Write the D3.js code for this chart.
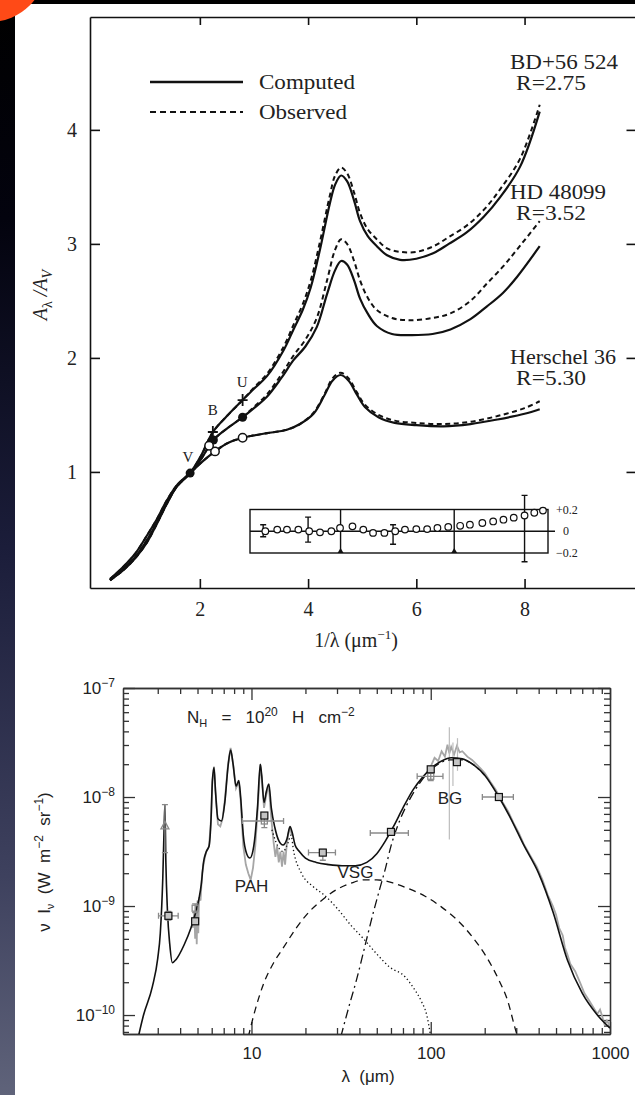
<!DOCTYPE html>
<html><head><meta charset="utf-8">
<script src="https://cdn.jsdelivr.net/npm/d3@7"></script>
<style>html,body{margin:0;padding:0;background:#000;overflow:hidden}svg{display:block}</style>
</head><body>
<svg id="c" width="635" height="1095"></svg>
<script>
// ================= TOP CHART DATA (extinction curves) =================
const topXTicks = [2, 4, 6, 8];
const topYTicks = [1, 2, 3, 4];

const bdX    = [0.34,0.59,0.80,1.02,1.20,1.39,1.57,1.82,2.02,2.24,2.5,2.79,3.0,3.24,3.55,3.73,3.9,4.05,4.22,4.4,4.5,4.61,4.72,4.85,4.96,5.1,5.27,5.46,5.7,6.0,6.32,6.6,6.93,7.25,7.55,7.92,8.28];
const bdComp = [0.05,0.14,0.24,0.38,0.54,0.72,0.87,0.99,1.14,1.35,1.49,1.63,1.73,1.84,2.07,2.25,2.42,2.62,2.95,3.35,3.52,3.60,3.55,3.38,3.20,3.07,2.98,2.90,2.86,2.87,2.92,3.00,3.10,3.24,3.41,3.68,4.16];
const bdObs  = [0.05,0.14,0.24,0.38,0.54,0.72,0.87,0.99,1.14,1.35,1.49,1.63,1.74,1.86,2.10,2.29,2.47,2.68,3.02,3.42,3.60,3.67,3.62,3.45,3.27,3.13,3.04,2.96,2.93,2.93,2.98,3.06,3.16,3.30,3.48,3.75,4.22];

const hdX    = [0.34,0.59,0.80,1.02,1.20,1.39,1.57,1.82,2.02,2.25,2.5,2.79,3.0,3.24,3.5,3.73,3.95,4.16,4.35,4.5,4.61,4.72,4.85,4.96,5.1,5.27,5.55,5.89,6.3,6.63,7.0,7.3,7.6,7.86,8.28];
const hdComp = [0.05,0.15,0.25,0.40,0.55,0.73,0.87,0.99,1.11,1.28,1.38,1.48,1.56,1.66,1.82,1.98,2.10,2.27,2.56,2.77,2.85,2.82,2.68,2.52,2.39,2.28,2.21,2.20,2.21,2.25,2.34,2.45,2.57,2.71,2.98];
const hdObs  = [0.05,0.15,0.25,0.40,0.55,0.73,0.87,0.99,1.11,1.28,1.38,1.48,1.57,1.68,1.85,2.02,2.16,2.35,2.68,2.95,3.04,3.00,2.85,2.68,2.53,2.42,2.35,2.33,2.35,2.39,2.50,2.65,2.80,2.95,3.20];

const herX    = [0.34,0.59,0.80,1.02,1.20,1.39,1.57,1.82,2.02,2.28,2.5,2.79,3.0,3.24,3.61,3.85,4.1,4.3,4.45,4.6,4.75,4.9,5.05,5.3,5.6,6.0,6.5,7.0,7.5,8.0,8.28];
const herComp = [0.06,0.17,0.28,0.44,0.58,0.75,0.88,0.99,1.08,1.18,1.25,1.30,1.32,1.34,1.37,1.42,1.51,1.67,1.80,1.85,1.80,1.68,1.57,1.48,1.43,1.41,1.40,1.42,1.46,1.51,1.55];
const herObs  = [0.06,0.17,0.28,0.44,0.58,0.75,0.88,0.99,1.08,1.18,1.25,1.30,1.32,1.34,1.37,1.42,1.52,1.68,1.82,1.87,1.82,1.70,1.59,1.50,1.45,1.43,1.42,1.44,1.49,1.56,1.62];

// photometric points: [x, y]
const filledPts = [[1.82,0.99],[2.25,1.28],[2.79,1.48]];
const openPts   = [[2.28,1.18],[2.17,1.23],[2.79,1.30]];
const plusPts   = [[2.24,1.35],[2.79,1.63]];
const bandLabels = [["V",1.78,1.09],["B",2.24,1.50],["U",2.78,1.745]];

const starNames = ["BD+56 524","HD 48099","Herschel 36"];
const starR     = ["R=2.75","R=3.52","R=5.30"];
const starLabelY = [4.534, 3.394, 1.947];

// inset residuals
const resX = [3.21,3.43,3.61,3.82,4.02,4.22,4.43,4.59,4.82,5.02,5.20,5.41,5.61,5.79,6.0,6.2,6.39,6.59,6.81,6.99,7.22,7.42,7.61,7.8,8.0,8.18,8.34];
const resY = [0,0.015,0.015,0.015,0,-0.01,0,0.03,0.045,0.015,-0.015,-0.015,0,0.015,0.02,0.02,0.03,0.04,0.05,0.06,0.076,0.09,0.106,0.125,0.145,0.17,0.19];
const resErrX  = [3.17, 4.0, 5.57, 8.0];
const resErrLo = [-0.05,-0.10,-0.12,-0.28];
const resErrHi = [0.06,0.13,0.06,0.33];
const resDividers = [4.6, 6.7];
const resTicks = [["+0.2",0.2],["0",0],["\u22120.2",-0.2]];

// ================= BOTTOM CHART DATA (dust SED) =================
const botXMajor = [10, 100, 1000];
const botYMajorExp = [-10, -9, -8, -7];

const totLam = [2.2,2.5,2.8,3.0,3.1,3.2,3.26,3.29,3.33,3.4,3.5,3.62,3.8,4.2,4.6,4.9,5.1,5.25,5.4,5.6,5.8,5.95,6.05,6.18,6.3,6.5,6.8,7.1,7.4,7.65,7.9,8.2,8.5,8.7,9.0,9.4,9.8,10.3,10.8,11.2,11.4,11.75,12.1,12.5,12.9,13.5,14.2,15.0,15.8,16.4,16.9,17.5,18.5,20,23,27,32,38,44,50,56,62,70,80,90,100,115,130,150,175,200,240,280,330,400,480,580,700,850,1000];
const totLog = [-10.4,-10.0,-9.74,-9.48,-9.25,-8.75,-8.25,-8.07,-8.6,-9.05,-9.35,-9.52,-9.49,-9.36,-9.2,-9.05,-8.93,-8.8,-8.6,-8.5,-8.45,-8.2,-7.86,-7.73,-7.95,-8.2,-8.22,-8.05,-7.72,-7.57,-7.7,-7.9,-7.85,-8.0,-8.35,-8.52,-8.56,-8.45,-8.1,-7.7,-7.8,-8.05,-7.95,-7.88,-8.1,-8.28,-8.4,-8.44,-8.38,-8.27,-8.33,-8.44,-8.5,-8.56,-8.6,-8.62,-8.63,-8.63,-8.6,-8.52,-8.4,-8.27,-8.1,-7.93,-7.82,-7.74,-7.67,-7.64,-7.65,-7.71,-7.8,-8.0,-8.2,-8.44,-8.7,-9.05,-9.5,-9.8,-10.0,-10.12];

const pahLam = [13,14,15,16,16.6,17.2,19,22,25.5,30,36,42.7,50,59,72,80,89,95,100];
const pahLog = [-8.3,-8.45,-8.5,-8.42,-8.35,-8.5,-8.7,-8.82,-8.9,-9.02,-9.18,-9.31,-9.44,-9.56,-9.65,-9.75,-9.88,-10.0,-10.2];

const vsgLam = [9.6,10.5,11.7,13.3,15.1,17.8,20.8,25,29.8,36,42.7,50,62,75,93,115,141,170,205,240,270,293,305];
const vsgLog = [-10.2,-9.95,-9.71,-9.52,-9.38,-9.2,-9.06,-8.94,-8.85,-8.79,-8.76,-8.76,-8.79,-8.84,-8.91,-9.01,-9.13,-9.28,-9.47,-9.68,-9.88,-10.1,-10.2];

const bgLam = [31.5,35,38.5,43.8,48,51.8,56,60,67,77,87,96,110,128,150,175,200];
const bgLog = [-10.2,-9.92,-9.68,-9.31,-9.05,-8.85,-8.65,-8.45,-8.22,-8.01,-7.87,-7.78,-7.7,-7.66,-7.66,-7.71,-7.8];

const isoLam = [4.7,4.8,4.85,4.9,4.95,5.0,5.05,5.1,5.2,5.3,5.4,5.5,5.6,5.8,5.95,6.05,6.18,6.3,6.5,6.7,6.9,7.1,7.4,7.65,7.9,8.2,8.5,8.7,9.0,9.3,9.6,9.9,10.2,10.5,10.8,11.2,11.4,11.75,12.1,12.5,12.9,13.3,13.6,13.9,14.2,14.5,14.8,15.1,15.4,15.7,16.0,16.4,16.8];
const isoLog = [-9.2,-9.05,-9.3,-9.0,-9.35,-8.95,-9.25,-8.92,-8.95,-8.7,-8.62,-8.55,-8.5,-8.45,-8.2,-7.85,-7.72,-7.95,-8.25,-8.27,-8.2,-8.03,-7.7,-7.55,-7.7,-7.92,-7.86,-8.03,-8.45,-8.62,-8.7,-8.76,-8.65,-8.45,-8.15,-7.7,-7.82,-8.1,-7.98,-7.9,-8.2,-8.42,-8.55,-8.45,-8.6,-8.5,-8.64,-8.5,-8.62,-8.45,-8.35,-8.28,-8.35];

const firLam = [100,105,110,115,120,124,127,130,135,140,145,150,160,170,180,190,200,215,230,250,270,290,310,330,360,390,420,450,480,500,520,545,560,580,600,640,680,720,760,800,850,880,900,930,960,1000];
const firLog = [-7.72,-7.64,-7.67,-7.58,-7.63,-7.52,-7.6,-7.54,-7.61,-7.53,-7.59,-7.58,-7.63,-7.66,-7.7,-7.74,-7.78,-7.86,-7.93,-8.04,-8.13,-8.24,-8.33,-8.43,-8.54,-8.64,-8.76,-8.9,-9.0,-9.08,-9.2,-9.27,-9.38,-9.45,-9.53,-9.6,-9.7,-9.8,-9.86,-9.92,-9.99,-9.95,-10.0,-10.08,-10.05,-10.1];

const spikes = [[127,-8.39,-7.36],[141,-7.76,-7.46],[133,-7.9,-7.5]];

const sqLam = [3.44,4.85,11.8,25,60,100,140,240];
const sqLog = [-9.09,-9.14,-8.17,-8.51,-8.32,-7.746,-7.68,-8.0];
const obsPts = [
  [3.44,-9.09,-9.13,-9.05,3.03,3.9],
  [4.85,-9.02,-9.06,-8.98,4.85,4.85],
  [11.8,-8.22,-8.28,-8.15,8.9,15.1],
  [25,-8.51,-8.58,-8.48,20.8,29.4],
  [60,-8.33,-8.35,-8.31,46,75],
  [100,-7.81,-7.85,-7.77,84,117],
  [240,-8.0,-8.02,-7.98,194,289]
];
const triPt = [3.29,-8.26,-8.51,-8.07];

const compLabels = [["PAH",10.0,-8.87],["VSG",38,-8.74],["BG",128,-8.06]];

// ================= DRAW =================
const svg = d3.select("#c");
const defs = svg.append("defs");
const grad = defs.append("linearGradient").attr("id","strip").attr("x1",0).attr("y1",0).attr("x2",0).attr("y2",1);
[[0,"#000"],[0.2,"#03030e"],[0.5,"#1b1d3a"],[0.8,"#3e415e"],[1,"#5f637a"]].forEach(s=>grad.append("stop").attr("offset",s[0]).attr("stop-color",s[1]));
svg.append("rect").attr("width",635).attr("height",1095).attr("fill","#000");
svg.append("rect").attr("width",15).attr("height",1095).attr("fill","url(#strip)");
svg.append("rect").attr("x",15).attr("y",4).attr("width",620).attr("height",1091).attr("fill","#fff");
svg.append("circle").attr("cx",-10).attr("cy",-34).attr("r",56).attr("fill","#ff4a17");

const SERIF = "'Liberation Serif','Times New Roman',serif";
const SANS = "'Liberation Sans',Arial,Helvetica,sans-serif";

// ---------- top chart ----------
const xT = d3.scaleLinear().domain([-0.03, 10.05]).range([90, 635.5]);
const yT = d3.scaleLinear().domain([-0.018, 4.99]).range([588, 17]);
defs.append("clipPath").attr("id","clipT").append("rect").attr("x",90).attr("y",17).attr("width",546).attr("height",571);

const gT = svg.append("g");
function styleAxis(g, col, sw, font, fs){
  g.attr("font-family", font).attr("font-size", fs);
  g.select(".domain").attr("stroke", col).attr("stroke-width", sw);
  g.selectAll(".tick line").attr("stroke", col).attr("stroke-width", sw);
  g.selectAll(".tick text").attr("fill", "#222");
}
gT.append("g").attr("transform","translate(0,588)")
  .call(d3.axisBottom(xT).tickValues(topXTicks).tickSize(-9).tickSizeOuter(0).tickPadding(14).tickFormat(d3.format("d")))
  .call(g=>styleAxis(g,"#111",1.6,SERIF,20));
gT.append("g").attr("transform","translate(0,17)")
  .call(d3.axisTop(xT).tickValues(topXTicks).tickSize(-8).tickSizeOuter(0).tickFormat(""))
  .call(g=>styleAxis(g,"#111",1.6,SERIF,20));
gT.append("g").attr("transform","translate(90,0)")
  .call(d3.axisLeft(yT).tickValues(topYTicks).tickSize(-10).tickSizeOuter(0).tickPadding(13).tickFormat(d3.format("d")))
  .call(g=>styleAxis(g,"#111",1.6,SERIF,20));
gT.append("g").attr("transform","translate(635.5,0)")
  .call(d3.axisRight(yT).tickValues(topYTicks).tickSize(-9).tickSizeOuter(0).tickFormat(""))
  .call(g=>styleAxis(g,"#111",1.6,SERIF,20));

const lineT = d3.line().x(d=>xT(d[0])).y(d=>yT(d[1])).curve(d3.curveCatmullRom.alpha(0.5));
const topCurves = [
  [bdX,bdComp,null],[bdX,bdObs,"5,3.5"],
  [hdX,hdComp,null],[hdX,hdObs,"5,3.5"],
  [herX,herComp,null],[herX,herObs,"5,3.5"]
];
const gCurves = gT.append("g").attr("clip-path","url(#clipT)");
gCurves.selectAll("path").data(topCurves).join("path")
  .attr("d",c=>lineT(c[0].map((x,i)=>[x,c[1][i]])))
  .attr("fill","none").attr("stroke","#111")
  .attr("stroke-width",c=>c[2]?2.0:2.2)
  .attr("stroke-dasharray",c=>c[2]);

gT.selectAll("circle.f").data(filledPts).join("circle").attr("class","f")
  .attr("cx",d=>xT(d[0])).attr("cy",d=>yT(d[1])).attr("r",4.5).attr("fill","#111");
gT.selectAll("circle.o").data(openPts).join("circle").attr("class","o")
  .attr("cx",d=>xT(d[0])).attr("cy",d=>yT(d[1])).attr("r",4.2).attr("fill","#fff").attr("stroke","#111").attr("stroke-width",1.5);
gT.selectAll("path.p").data(plusPts).join("path").attr("class","p")
  .attr("d",d=>{const cx=xT(d[0]),cy=yT(d[1]);return `M${cx-5},${cy}H${cx+5}M${cx},${cy-6}V${cy+6}`;})
  .attr("stroke","#111").attr("stroke-width",1.8);
gT.selectAll("text.band").data(bandLabels).join("text").attr("class","band")
  .attr("x",d=>xT(d[1])).attr("y",d=>yT(d[2])).attr("text-anchor","middle")
  .attr("font-family",SERIF).attr("font-size",15).attr("fill","#222").text(d=>d[0]);

const gLab = gT.append("g").attr("font-family",SERIF).attr("font-size",20).attr("fill","#222");
gLab.selectAll("text.n").data(starNames).join("text").attr("class","n")
  .attr("x",510).attr("y",(d,i)=>yT(starLabelY[i])).attr("textLength",(d,i)=>[108,96,106][i]).attr("lengthAdjust","spacingAndGlyphs").text(d=>d);
gLab.selectAll("text.r").data(starR).join("text").attr("class","r")
  .attr("x",516).attr("y",(d,i)=>yT(starLabelY[i])+21).attr("textLength",70).attr("lengthAdjust","spacingAndGlyphs").text(d=>d);

const legend = [["Computed",null,82,96],["Observed","6,4",112,88]];
const gLeg = gT.append("g");
gLeg.selectAll("line").data(legend).join("line")
  .attr("x1",150).attr("x2",243).attr("y1",d=>d[2]).attr("y2",d=>d[2])
  .attr("stroke","#111").attr("stroke-width",d=>d[1]?2.2:2.6).attr("stroke-dasharray",d=>d[1]);
gLeg.selectAll("text").data(legend).join("text")
  .attr("x",259).attr("y",d=>d[2]+7).attr("font-family",SERIF).attr("font-size",21).attr("fill","#222")
  .attr("textLength",d=>d[3]).attr("lengthAdjust","spacingAndGlyphs").text(d=>d[0]);

const yTitle = gT.append("text").attr("transform","translate(47,295) rotate(-90)").attr("text-anchor","middle")
  .attr("font-family",SERIF).attr("font-size",20).attr("fill","#222");
yTitle.append("tspan").attr("font-style","italic").text("A");
yTitle.append("tspan").attr("font-size",14).attr("dy",5).text("λ");
yTitle.append("tspan").attr("font-style","italic").attr("dy",-5).text(" /A");
yTitle.append("tspan").attr("font-size",14).attr("font-style","italic").attr("dy",5).text("V");
const xTitle = gT.append("text").attr("x",356).attr("y",647).attr("text-anchor","middle")
  .attr("font-family",SERIF).attr("font-size",20).attr("fill","#222");
xTitle.append("tspan").text("1/λ (μm");
xTitle.append("tspan").attr("font-size",13).attr("dy",-8).text("−1");
xTitle.append("tspan").attr("dy",8).text(")");

const yI = d3.scaleLinear().domain([-0.2,0.2]).range([553,509.5]);
const gI = gT.append("g");
gI.append("rect").attr("x",250).attr("y",yI(0.2)).attr("width",298).attr("height",yI(-0.2)-yI(0.2))
  .attr("fill","#fff").attr("stroke","#111").attr("stroke-width",1.4);
gI.append("line").attr("x1",250).attr("x2",555).attr("y1",yI(0)).attr("y2",yI(0)).attr("stroke","#111").attr("stroke-width",1.3);
gI.selectAll("line.div").data(resDividers).join("line").attr("class","div")
  .attr("x1",d=>xT(d)).attr("x2",d=>xT(d)).attr("y1",yI(0.2)).attr("y2",yI(-0.2)).attr("stroke","#111").attr("stroke-width",1.4);
gI.selectAll("path.tri").data(resDividers).join("path").attr("class","tri")
  .attr("d",d=>{const x=xT(d),y=yI(-0.2);return `M${x-3},${y}L${x+3},${y}L${x},${y-5}Z`;}).attr("fill","#111");
gI.selectAll("path.err").data(resErrX).join("path").attr("class","err")
  .attr("d",(d,i)=>{const x=xT(d),a=yI(resErrLo[i]),b=yI(resErrHi[i]);return `M${x},${a}V${b}M${x-3},${a}H${x+3}M${x-3},${b}H${x+3}`;})
  .attr("stroke","#111").attr("stroke-width",1.4).attr("fill","none");
gI.selectAll("circle").data(resX).join("circle")
  .attr("cx",d=>xT(d)).attr("cy",(d,i)=>yI(resY[i])).attr("r",3.3)
  .attr("fill","#fff").attr("stroke","#111").attr("stroke-width",1.2);
gI.selectAll("text").data(resTicks).join("text")
  .attr("x",d=>d[1]===0?563:556).attr("y",d=>yI(d[1])+4).attr("font-family",SERIF).attr("font-size",12).attr("fill","#222").text(d=>d[0]);

// ---------- bottom chart ----------
const xB = d3.scaleLog().domain([1.92,1000]).range([123,610]);
const yB = d3.scaleLog().domain([Math.pow(10,-10.174),1e-7]).range([1034,688]);
const P = v => yB(Math.pow(10,v));
defs.append("clipPath").attr("id","clipB").append("rect").attr("x",123).attr("y",688).attr("width",487).attr("height",346);

const xMinor = [];
[1,10,100].forEach(dec=>[2,3,4,5,6,7,8,9].forEach(m=>{const v=m*dec; if(v>2.05&&v<1000) xMinor.push(v);}));
const yMinor = [];
[-11,-10,-9,-8].forEach(e=>[2,3,4,5,6,7,8,9].forEach(m=>{const v=m*Math.pow(10,e); if(v>Math.pow(10,-10.174)&&v<1e-7) yMinor.push(v);}));
const yMajor = botYMajorExp.map(e=>Math.pow(10,e));

const gB = svg.append("g");
const AX = "#333";
gB.append("g").attr("transform","translate(0,1034)").call(d3.axisBottom(xB).tickValues(xMinor).tickSize(-6).tickSizeOuter(0).tickFormat("")).call(g=>styleAxis(g,AX,1.3,SANS,17));
gB.append("g").attr("transform","translate(0,688)").call(d3.axisTop(xB).tickValues(xMinor).tickSize(-6).tickSizeOuter(0).tickFormat("")).call(g=>styleAxis(g,AX,1.3,SANS,17));
gB.append("g").attr("transform","translate(123,0)").call(d3.axisLeft(yB).tickValues(yMinor).tickSize(-6).tickSizeOuter(0).tickFormat("")).call(g=>styleAxis(g,AX,1.3,SANS,17));
gB.append("g").attr("transform","translate(610,0)").call(d3.axisRight(yB).tickValues(yMinor).tickSize(-6).tickSizeOuter(0).tickFormat("")).call(g=>styleAxis(g,AX,1.3,SANS,17));
gB.append("g").attr("transform","translate(0,1034)").call(d3.axisBottom(xB).tickValues(botXMajor).tickSize(-12).tickSizeOuter(0).tickPadding(13).tickFormat(d3.format("d"))).call(g=>styleAxis(g,AX,1.3,SANS,17));
gB.append("g").attr("transform","translate(0,688)").call(d3.axisTop(xB).tickValues(botXMajor).tickSize(-12).tickSizeOuter(0).tickFormat("")).call(g=>styleAxis(g,AX,1.3,SANS,17));
gB.append("g").attr("transform","translate(123,0)")
  .call(d3.axisLeft(yB).tickValues(yMajor).tickSize(-12).tickSizeOuter(0).tickPadding(8).tickFormat(""))
  .call(g=>styleAxis(g,AX,1.3,SANS,17))
  .call(g=>g.selectAll(".tick text").each(function(d){
    const t=d3.select(this); t.text(null);
    t.append("tspan").text("10");
    t.append("tspan").attr("font-size",12).attr("dy",-7).text("−"+String(-Math.round(Math.log10(d))));
  }));
gB.append("g").attr("transform","translate(610,0)").call(d3.axisRight(yB).tickValues(yMajor).tickSize(-12).tickSizeOuter(0).tickFormat("")).call(g=>styleAxis(g,AX,1.3,SANS,17));

const lineB = d3.line().x(d=>xB(d[0])).y(d=>P(d[1])).curve(d3.curveMonotoneX);
const lineLin = d3.line().x(d=>xB(d[0])).y(d=>P(d[1]));
const gData = gB.append("g").attr("clip-path","url(#clipB)");
gData.append("path").attr("d",lineLin(isoLam.map((l,i)=>[l,isoLog[i]]))).attr("fill","none").attr("stroke","#a6a6a6").attr("stroke-width",1.8);
gData.append("path").attr("d",lineLin(firLam.map((l,i)=>[l,firLog[i]]))).attr("fill","none").attr("stroke","#a6a6a6").attr("stroke-width",1.8);
gData.selectAll("line.spk").data(spikes).join("line").attr("class","spk")
  .attr("x1",d=>xB(d[0])).attr("x2",d=>xB(d[0])).attr("y1",d=>P(d[1])).attr("y2",d=>P(d[2]))
  .attr("stroke","#bdbdbd").attr("stroke-width",1.2);

const comps = [
  [pahLam,pahLog,"1.3,2.6",1.3],
  [vsgLam,vsgLog,"7,5",1.3],
  [bgLam,bgLog,"9,4,2,4",1.3],
  [totLam,totLog,null,1.6]
];
gData.selectAll("path.m").data(comps).join("path").attr("class","m")
  .attr("d",c=>lineB(c[0].map((l,i)=>[l,c[1][i]])))
  .attr("fill","none").attr("stroke","#111").attr("stroke-dasharray",c=>c[2]).attr("stroke-width",c=>c[3]);

const gErr = gB.append("g").attr("stroke","#8a8a8a").attr("stroke-width",1.3).attr("fill","none");
gErr.selectAll("path").data(obsPts).join("path")
  .attr("d",d=>{const x=xB(d[0]),y=P(d[1]),a=P(d[2]),b=P(d[3]),x0=xB(d[4]),x1=xB(d[5]);
    return `M${x0},${y}H${x1}M${x0},${y-3}V${y+3}M${x1},${y-3}V${y+3}M${x},${a}V${b}M${x-3},${a}H${x+3}M${x-3},${b}H${x+3}`;});
gErr.selectAll("rect").data(obsPts.filter(d=>d[0]===4.85||d[0]===100||d[0]===11.8)).join("rect")
  .attr("x",d=>xB(d[0])-3).attr("y",d=>P(d[1])-3).attr("width",6).attr("height",6);
gErr.append("path").attr("d",()=>{const x=xB(triPt[0]),y=P(triPt[1]);return `M${x-4},${y+3.5}L${x+4},${y+3.5}L${x},${y-4}Z`;});
gErr.append("path").attr("d",()=>{const x=xB(triPt[0]),a=P(triPt[2]),b=P(triPt[3]);return `M${x},${a}V${b}M${x-3},${a}H${x+3}M${x-3},${b}H${x+3}`;});

gB.selectAll("rect.sq").data(sqLam).join("rect").attr("class","sq")
  .attr("x",d=>xB(d)-3.5).attr("y",(d,i)=>P(sqLog[i])-3.5).attr("width",7).attr("height",7)
  .attr("fill","#c4c4c4").attr("stroke","#111").attr("stroke-width",1.2);

gB.selectAll("text.cl").data(compLabels).join("text").attr("class","cl")
  .attr("x",d=>xB(d[1])).attr("y",d=>P(d[2])).attr("text-anchor","middle")
  .attr("font-family",SANS).attr("font-size",17).attr("fill","#222").text(d=>d[0]);
const nh = gB.append("text").attr("x",187).attr("y",723).attr("font-family",SANS).attr("font-size",17).attr("fill","#222").style("white-space","pre");
nh.append("tspan").text("N");
nh.append("tspan").attr("font-size",11).attr("dy",4).text("H");
nh.append("tspan").attr("dy",-4).text("   =   10");
nh.append("tspan").attr("font-size",12).attr("dy",-7).text("20");
nh.append("tspan").attr("dy",7).text("   H   cm");
nh.append("tspan").attr("font-size",12).attr("dy",-7).text("−2");

const yT2 = gB.append("text").attr("transform","translate(50,862) rotate(-90)").attr("text-anchor","middle")
  .attr("font-family",SANS).attr("font-size",17).attr("fill","#222").style("white-space","pre");
yT2.append("tspan").text("ν  I");
yT2.append("tspan").attr("font-size",11).attr("dy",4).text("ν");
yT2.append("tspan").attr("dy",-4).text("  (W  m");
yT2.append("tspan").attr("font-size",12).attr("dy",-7).text("−2");
yT2.append("tspan").attr("dy",7).text("  sr");
yT2.append("tspan").attr("font-size",12).attr("dy",-7).text("−1");
yT2.append("tspan").attr("dy",7).text(")");

gB.append("text").attr("x",368).attr("y",1082).attr("text-anchor","middle")
  .attr("font-family",SANS).attr("font-size",17).attr("fill","#222").style("white-space","pre").text("λ  (μm)");
</script>
</body></html>
